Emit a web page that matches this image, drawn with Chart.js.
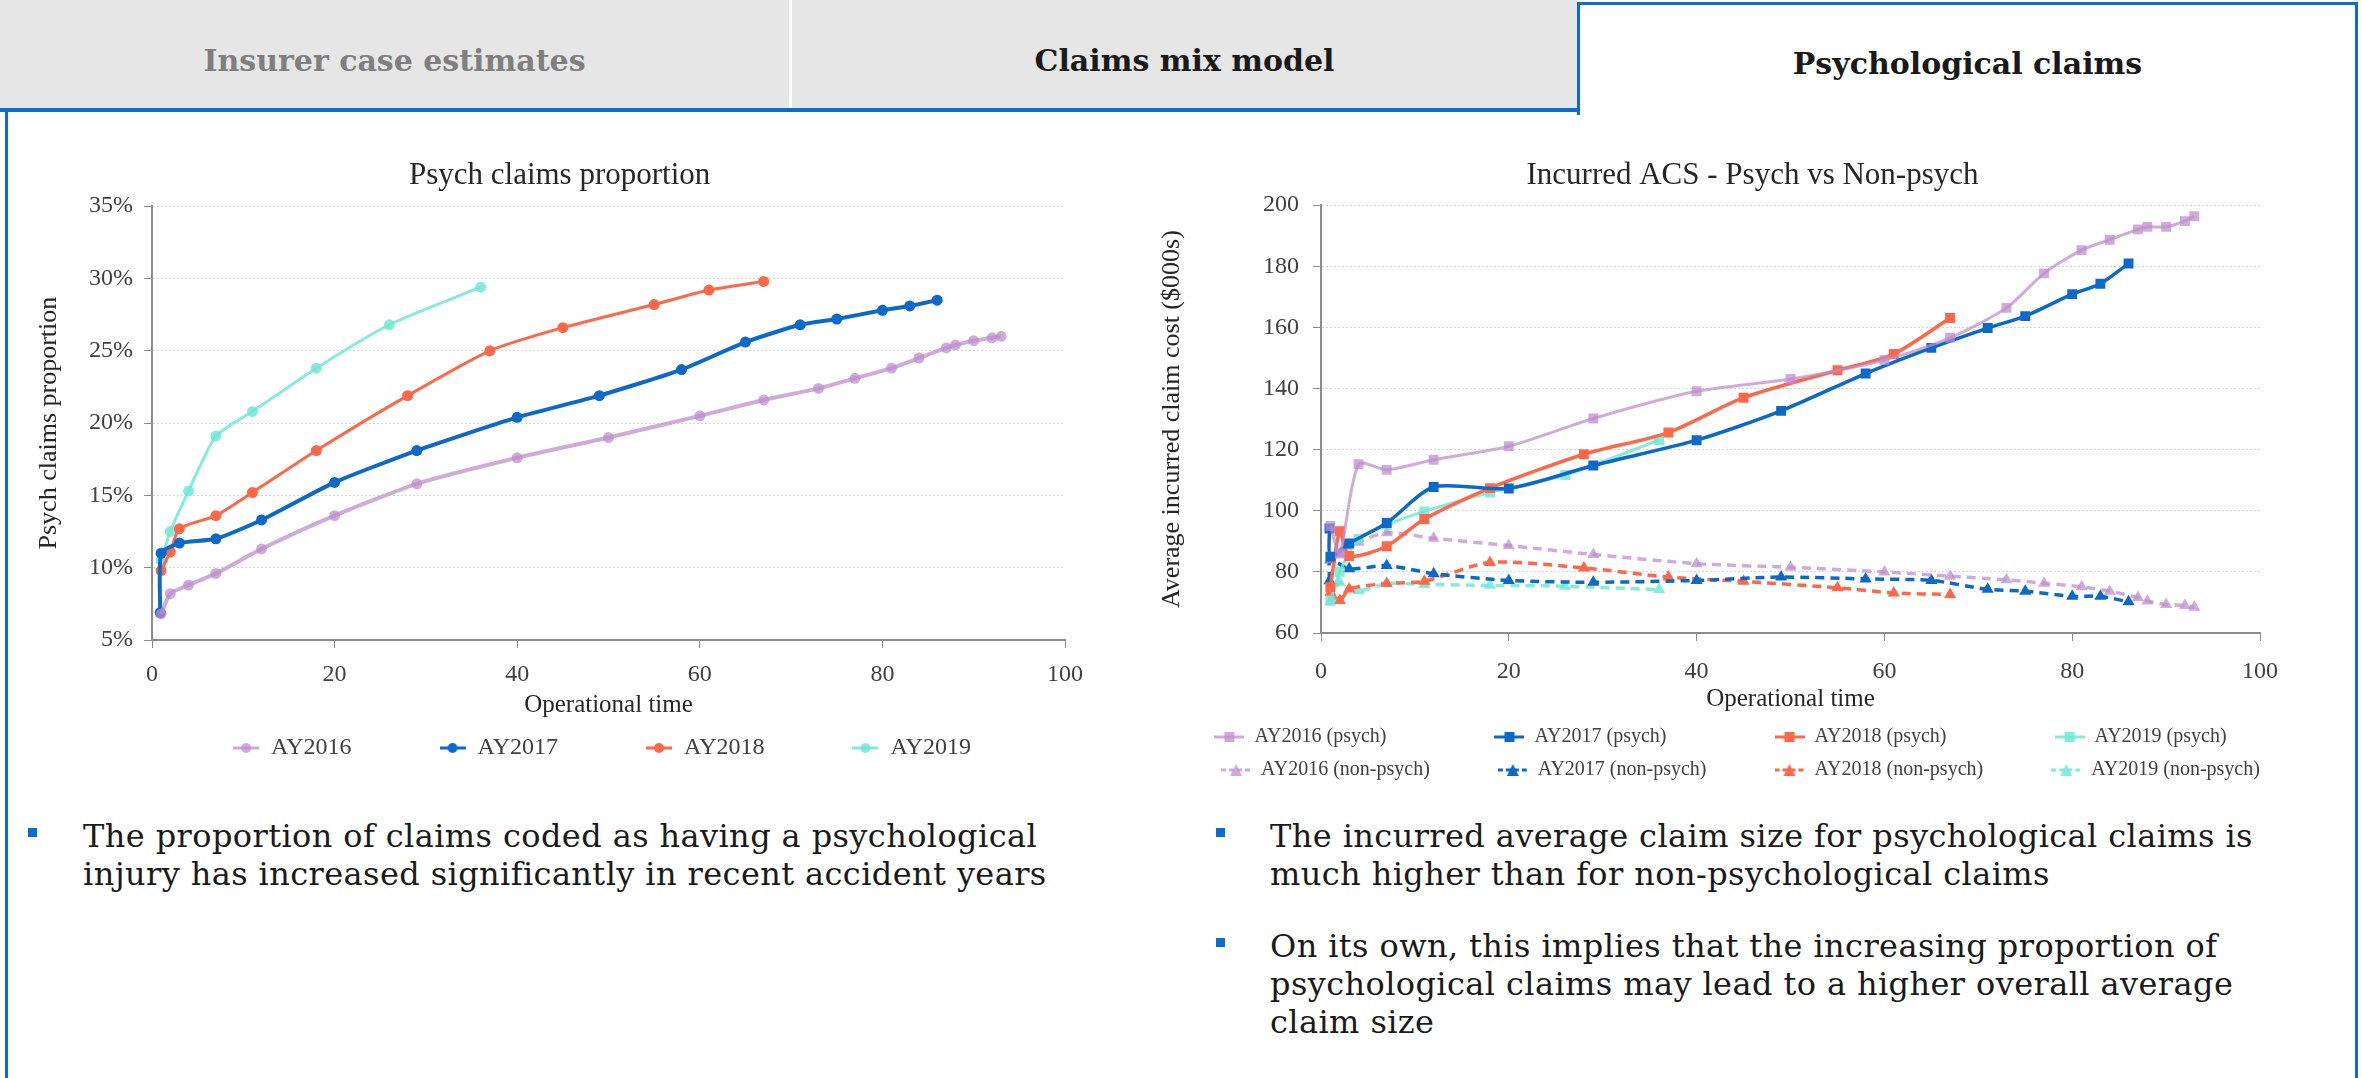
<!DOCTYPE html>
<html>
<head>
<meta charset="utf-8">
<script src="https://cdn.jsdelivr.net/npm/chart.js@4"></script>
<style>
  body { margin: 0; width: 2362px; height: 1078px; overflow: hidden; background: #fff; position: relative; font-family: "DejaVu Serif", serif; }
  .tab { position: absolute; top: 0; height: 108px; box-sizing: border-box; padding-top: 12px; display: flex; align-items: center; justify-content: center; font-weight: bold; font-size: 30px; background: #e6e6e6; }
  #tab1 { left: 0; width: 789px; color: #7f7f7f; }
  #tab2 { left: 792px; width: 785px; color: #1a1a1a; }
  #tab3 { left: 1577px; top: 2px; width: 781px; height: 113px; padding-top: 6px; background: #fff; color: #1a1a1a; border: 3px solid #0a6ccc; border-bottom: none; }
  #underline { position: absolute; left: 0; top: 108px; width: 1580px; height: 4px; background: #0a6ccc; }
  #boxL { position: absolute; left: 5px; top: 110px; width: 3px; height: 968px; background: #0a6ccc; }
  #boxR { position: absolute; left: 2355px; top: 110px; width: 3px; height: 968px; background: #0a6ccc; }
  canvas { position: absolute; }
  .bullet { position: absolute; font-size: 32px; letter-spacing: 0.4px; line-height: 38px; color: #1a1a1a; white-space: nowrap; }
  .sq { position: absolute; width: 9px; height: 9px; background: #0a6ccc; }
</style>
</head>
<body>
<div class="tab" id="tab1">Insurer case estimates</div>
<div class="tab" id="tab2">Claims mix model</div>
<div class="tab" id="tab3">Psychological claims</div>
<div id="underline"></div>
<div id="boxL"></div>
<div id="boxR"></div>

<canvas id="propCanvas" width="1282" height="620" style="left:0;top:150px"></canvas>
<canvas id="acsCanvas" width="1236" height="640" style="left:1150px;top:150px"></canvas>

<div class="sq" style="left:28px;top:828px"></div>
<div class="bullet" style="left:83px;top:817px">The proportion of claims coded as having a psychological<br>injury has increased significantly in recent accident years</div>
<div class="sq" style="left:1216px;top:828px"></div>
<div class="bullet" style="left:1270px;top:817px">The incurred average claim size for psychological claims is<br>much higher than for non-psychological claims</div>
<div class="sq" style="left:1216px;top:938px"></div>
<div class="bullet" style="left:1270px;top:927px">On its own, this implies that the increasing proportion of<br>psychological claims may lead to a higher overall average<br>claim size</div>

<script>
// operational time of each data point, by accident year
const opt16 = [1, 2, 4, 7, 12, 20, 29, 40, 50, 60, 67, 73, 77, 81, 84, 87, 88, 90, 92, 93];
const opt17 = [0.9, 1, 3, 7, 12, 20, 29, 40, 49, 58, 65, 71, 75, 80, 83, 86];
const opt18 = [1, 2, 3, 7, 11, 18, 28, 37, 45, 55, 61, 67];
const opt19 = [1, 2, 4, 7, 11, 18, 26, 36];

// psych claims proportion (%)
const prop16 = [6.8, 8.2, 8.8, 9.6, 11.3, 13.6, 15.8, 17.6, 19.0, 20.5, 21.6, 22.4, 23.1, 23.8, 24.5, 25.2, 25.4, 25.7, 25.9, 26.0];
const prop17 = [6.9, 11.0, 11.7, 12.0, 13.3, 15.9, 18.1, 20.4, 21.9, 23.7, 25.6, 26.8, 27.2, 27.8, 28.1, 28.5];
const prop18 = [9.8, 11.1, 12.7, 13.6, 15.2, 18.1, 21.9, 25.0, 26.6, 28.2, 29.2, 29.8];
const prop19 = [10.5, 12.5, 15.3, 19.1, 20.8, 23.8, 26.8, 29.4];

// average incurred claim cost ($000s), psych
const psy16 = [95, 86, 115.2, 113.4, 116.7, 121.1, 130.2, 139.1, 143.1, 149.3, 156.6, 166.4, 177.7, 185.3, 188.7, 192.1, 192.9, 192.9, 194.8, 196.4];
const psy17 = [94.2, 85, 89.3, 96.0, 107.8, 107.3, 114.8, 123.1, 132.7, 144.9, 153.3, 159.8, 163.7, 170.9, 174.3, 180.9];
const psy18 = [75, 93.3, 85.2, 88.4, 97.3, 107.4, 118.5, 125.6, 137.0, 146.0, 151.3, 163.1];
const psy19 = [70.5, 80, 90.8, 95.4, 99.8, 106, 111.7, 123.1];

// average incurred claim cost ($000s), non-psych
const non16 = [84, 86, 89.7, 92.8, 91.0, 88.6, 85.7, 82.7, 81.5, 80.0, 78.6, 77.4, 76.3, 75.1, 73.7, 71.6, 70.5, 69.3, 69.0, 68.4];
const non17 = [77.1, 84, 81.0, 82.1, 79.4, 77.2, 76.6, 77.2, 78.3, 77.7, 77.2, 74.3, 73.7, 72.0, 72.0, 70.2];
const non18 = [73.3, 70.6, 74.4, 76.2, 76.9, 83.1, 81.3, 78.3, 76.9, 74.8, 73.1, 72.6];
const non19 = [70.4, 76.5, 73.8, 76.2, 75.9, 75.6, 75.3, 74.2];

const years = ["AY2016", "AY2017", "AY2018", "AY2019"];
const colors = ["rgba(188,138,206,0.72)", "#0a69c9", "#ff6749", "rgba(112,232,212,0.85)"];

Chart.defaults.font.family = "Liberation Serif";
Chart.defaults.color = "#404040";

function pts(xs, ys) {
  return xs.map((x, i) => ({ x: x, y: ys[i] }));
}

// little legend glyph: line with a marker on it
function swatch(w, color, shape, dashed) {
  const c = document.createElement("canvas");
  c.width = w; c.height = 16;
  const g = c.getContext("2d");
  g.strokeStyle = color; g.lineWidth = 3;
  if (dashed) g.setLineDash([5, 3]);
  g.beginPath(); g.moveTo(0, 8); g.lineTo(w, 8); g.stroke();
  g.setLineDash([]);
  g.fillStyle = color;
  g.beginPath();
  if (shape === "circle") g.arc(w / 2, 8, 5, 0, 2 * Math.PI);
  else if (shape === "rect") g.rect(w / 2 - 5, 3, 10, 10);
  else { g.moveTo(w / 2, 2); g.lineTo(w / 2 + 6, 14); g.lineTo(w / 2 - 6, 14); g.closePath(); }
  g.fill();
  return c;
}

function legendLabels(swatches, textWidth, font) {
  return function (chart) {
    const items = Chart.defaults.plugins.legend.labels.generateLabels(chart);
    const ctx = chart.ctx;
    ctx.save();
    ctx.font = font;
    items.forEach((it, i) => {
      let t = it.text;
      while (ctx.measureText(t).width < textWidth) t += "\u00a0";
      it.text = t;
      it.pointStyle = swatches[i];
    });
    ctx.restore();
    return items;
  };
}

const axisGray = "#8c8c8c";

// ---- left chart: psych claims proportion
const propData = [prop16, prop17, prop18, prop19];
const propX = [opt16, opt17, opt18, opt19];

new Chart(document.getElementById("propCanvas"), {
  type: "scatter",
  data: {
    datasets: years.map((y, i) => ({
      label: y,
      data: pts(propX[i], propData[i]),
      showLine: true,
      borderColor: colors[i],
      backgroundColor: colors[i],
      borderWidth: i === 1 || i === 0 ? 4 : 3,
      pointRadius: 5.5,
      pointBorderWidth: 0,
      tension: 0.2
    }))
  },
  options: {
    responsive: false,
    animation: false,
    layout: { padding: 0 },
    plugins: {
      // trailing spaces pull the centred title left, off the legend spacer
      title: { display: true, text: "Psych claims proportion" + "\u00a0".repeat(21), color: "#262626",
               font: { size: 31, weight: "normal" }, padding: { top: 7, bottom: 12 } },
      legend: {
        position: "bottom",
        labels: {
          font: { size: 24 }, color: "#404040", usePointStyle: true, pointStyleWidth: 26, padding: 10,
          generateLabels: legendLabels(years.map((y, i) => swatch(26, colors[i], "circle", false)), 157, "24px 'Liberation Serif'")
        }
      },
      tooltip: { enabled: false }
    },
    scales: {
      x: {
        min: 0, max: 100,
        ticks: { stepSize: 20, font: { size: 24 }, padding: 12 },
        grid: { drawOnChartArea: false, tickLength: 8, tickColor: axisGray },
        border: { color: axisGray, width: 2 },
        title: { display: true, text: "Operational time", font: { size: 25 }, color: "#262626", padding: { top: 0, bottom: 6 } },
        afterFit: s => { s.height = 86; }
      },
      y: {
        min: 5, max: 35,
        ticks: { stepSize: 5, font: { size: 24 }, padding: 11, callback: v => v + "%" },
        grid: { color: "#d6d6d6", tickColor: axisGray, tickLength: 8 },
        border: { color: axisGray, width: 2, dash: [2, 2] },
        title: { display: true, text: "Psych claims proportion", font: { size: 26 }, color: "#262626", padding: { top: 34, bottom: 0 } },
        afterFit: s => { s.width = 152; }
      },
      pad: {
        type: "linear", position: "right", display: true,
        grid: { display: false }, ticks: { display: false }, border: { display: false },
        afterFit: s => { s.width = 217; }
      }
    }
  }
});

// ---- right chart: incurred ACS, psych vs non-psych
const psyData = [psy16, psy17, psy18, psy19];
const nonData = [non16, non17, non18, non19];

const acsSets = [];
years.forEach((y, i) => {
  acsSets.push({
    label: y + " (psych)",
    data: pts(propX[i], psyData[i]),
    showLine: true,
    borderColor: colors[i], backgroundColor: colors[i],
    borderWidth: i === 1 || i === 2 ? 3.5 : 3,
    pointStyle: "rect", pointRadius: 7, pointBorderWidth: 0,
    tension: 0.25
  });
});
years.forEach((y, i) => {
  acsSets.push({
    label: y + " (non-psych)",
    data: pts(propX[i], nonData[i]),
    showLine: true,
    borderColor: colors[i], backgroundColor: colors[i],
    borderWidth: 3.5, borderDash: [9, 6],
    pointStyle: "triangle", pointRadius: 7, pointBorderWidth: 0,
    tension: 0.25
  });
});

const acsSwatches = years.map((y, i) => swatch(30, colors[i], "rect", false))
  .concat(years.map((y, i) => swatch(30, colors[i], "triangle", true)));

new Chart(document.getElementById("acsCanvas"), {
  type: "scatter",
  data: { datasets: acsSets },
  options: {
    responsive: false,
    animation: false,
    layout: { padding: 0 },
    plugins: {
      title: { display: true, text: "Incurred ACS - Psych vs Non-psych" + "\u00a0".repeat(4), color: "#262626",
               font: { size: 31, weight: "normal" }, padding: { top: 7, bottom: 11 } },
      legend: {
        position: "bottom",
        labels: {
          font: { size: 20 }, color: "#404040", usePointStyle: true, pointStyleWidth: 30, padding: 13,
          generateLabels: legendLabels(acsSwatches, 223, "20px 'Liberation Serif'")
        }
      },
      tooltip: { enabled: false }
    },
    scales: {
      x: {
        min: 0, max: 100,
        ticks: { stepSize: 20, font: { size: 24 }, padding: 16 },
        grid: { drawOnChartArea: false, tickLength: 8, tickColor: axisGray },
        border: { color: axisGray, width: 2 },
        title: { display: true, text: "Operational time", font: { size: 25 }, color: "#262626", padding: { top: 0, bottom: 0 } },
        afterFit: s => { s.height = 81; }
      },
      y: {
        min: 60, max: 200,
        ticks: { stepSize: 20, font: { size: 24 }, padding: 14 },
        grid: { color: "#d6d6d6", tickColor: axisGray, tickLength: 8 },
        border: { color: axisGray, width: 2, dash: [2, 2] },
        title: { display: true, text: "Average incurred claim cost ($000s)", font: { size: 26 }, color: "#262626", padding: { top: 7, bottom: 0 } },
        afterFit: s => { s.width = 171; }
      },
      pad: {
        type: "linear", position: "right", display: true,
        grid: { display: false }, ticks: { display: false }, border: { display: false },
        afterFit: s => { s.width = 126; }
      }
    }
  }
});
</script>
</body>
</html>
